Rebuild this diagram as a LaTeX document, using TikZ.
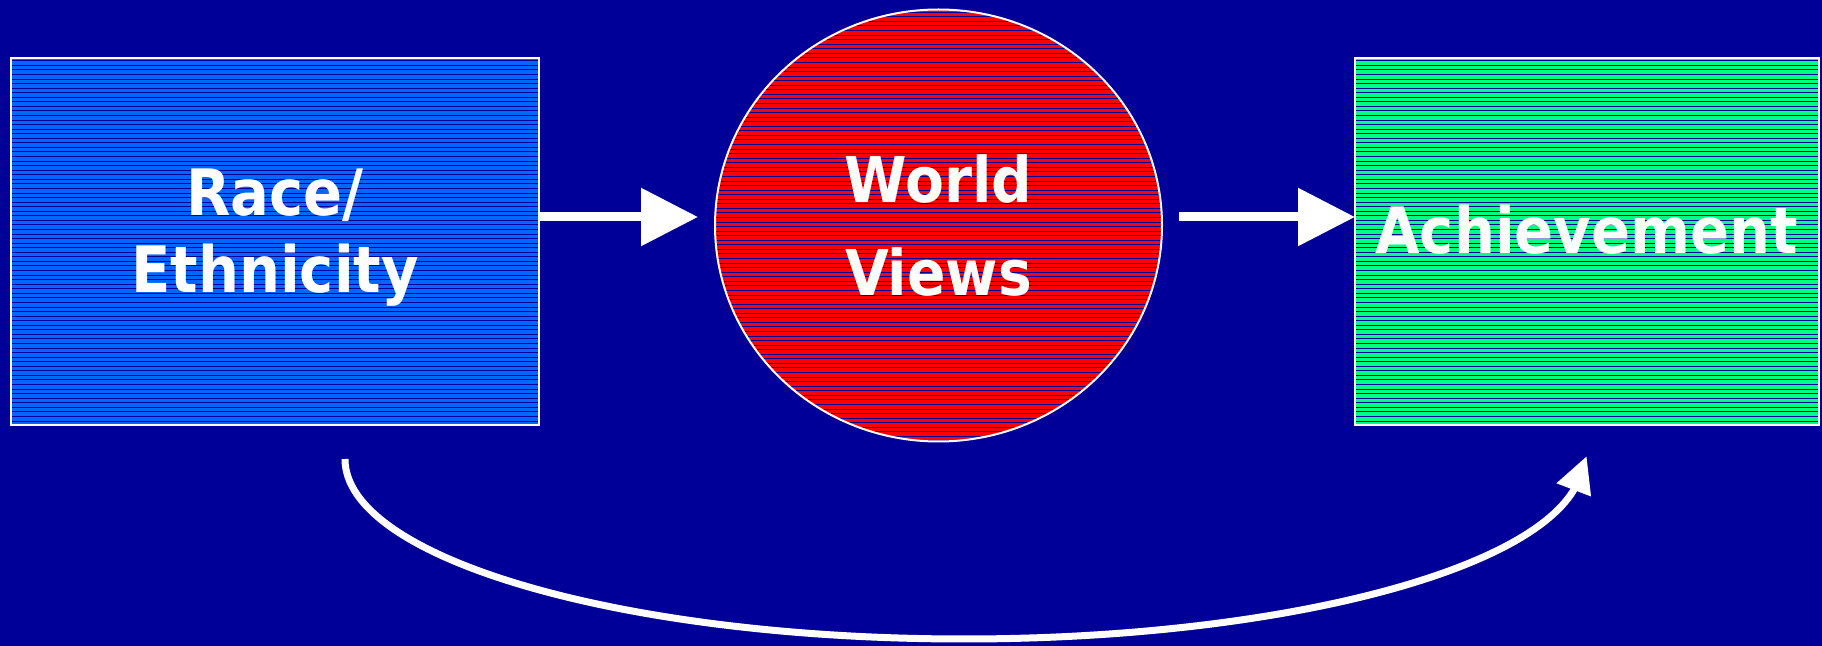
\documentclass[tikz,border=0pt]{standalone}
\usepackage{fontspec}
\usepackage{tikz}
\usetikzlibrary{arrows.meta,positioning,shapes.geometric}
\newfontfamily\diagfont[FakeStretch=0.9]{DejaVu Sans}
\definecolor{slidebg}{HTML}{000099}
\definecolor{raceblue}{HTML}{0066FF}
\definecolor{viewsred}{HTML}{FF0000}
\definecolor{achgreen}{HTML}{00FF80}
\tikzset{
striped/.style={
  path picture={
    \foreach \k in {0,...,100}
      \draw[slidebg,line width=0.5pt]
        ([yshift={-1.4pt-\k*2.28pt}]path picture bounding box.north west) --
        ([yshift={-1.4pt-\k*2.28pt}]path picture bounding box.north east);
  }
},
slide box/.style={
  draw=white,
  line width=1pt,
  inner sep=0pt,
  outer sep=0pt,
  align=center,
  text=white,
  font=\diagfont\bfseries\fontsize{32}{38.5}\selectfont,
  striped
},
race box/.style={slide box, rectangle, fill=raceblue,
  minimum width=264.25pt, minimum height=183.5pt, text depth=11pt},
views node/.style={slide box, ellipse, fill=viewsred,
  minimum width=223.5pt, minimum height=216pt,
  font=\diagfont\bfseries\fontsize{31.5}{46.5}\selectfont},
achieve box/.style={slide box, rectangle, fill=achgreen,
  minimum width=231.75pt, minimum height=183.5pt, text depth=12pt},
flow/.style={
  draw=white,
  line width=4.5pt,
  -{Triangle[length=28.5pt,width=28pt]}
},
curved flow/.style={
  draw=white,
  line width=3.5pt,
  -{Triangle[length=18pt,width=17.5pt]}
}
}

\begin{document}
\begin{tikzpicture}[x=0.5pt,y=-0.5pt]
\fill[slidebg] (0,0) rectangle (1822,646);
\useasboundingbox (0,0) rectangle (1822,646);
\node[race box] (race) at (275,241.5) {Race/\\Ethnicity};
\node[views node] (views) at (938.5,225.5) {World\\Views};
\node[achieve box] (achieve) at (1586.75,241.5) {Achievement};
\draw[flow,shorten >=8.5pt] ([yshift=12.25pt]race.east) -- ([yshift=4.25pt]views.west);
\draw[flow,shorten <=8.5pt] ([yshift=4.25pt]views.east) -- ([yshift=12.25pt]achieve.west);
% direct path underneath
\coordinate (loop start) at (345,459);
\draw[curved flow] (loop start) arc[start angle=180,end angle=10,x radius=619,y radius=180] -- ++(13,-34);
\end{tikzpicture}
\end{document}
